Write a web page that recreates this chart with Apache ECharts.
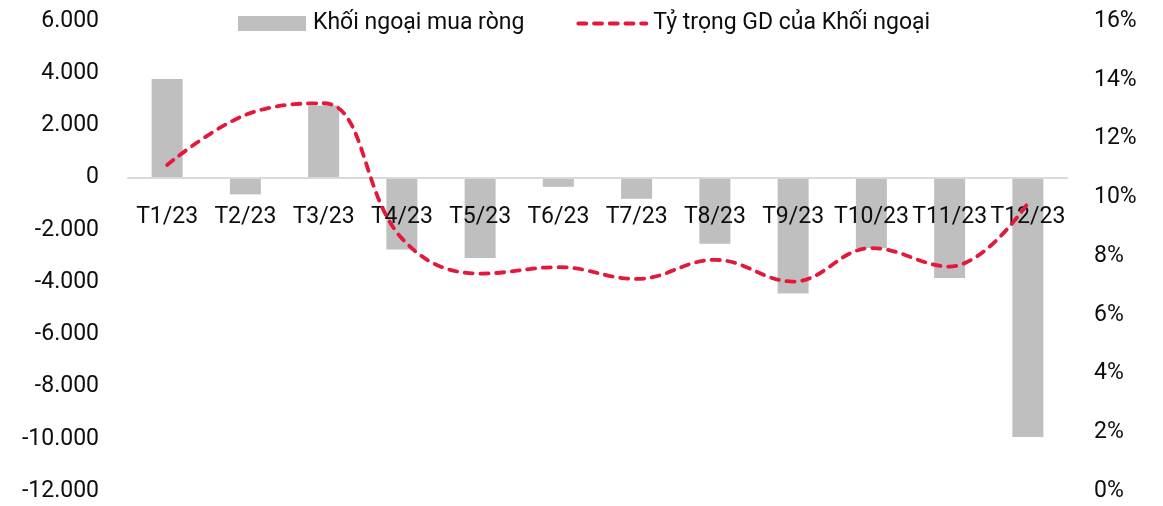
<!DOCTYPE html>
<html>
<head>
<meta charset="utf-8">
<script src="https://cdn.jsdelivr.net/npm/echarts@6/dist/echarts.min.js"></script>
<style>
  html, body { margin: 0; padding: 0; background: #fff; }
  #chart { width: 1163px; height: 506px; }
</style>
</head>
<body>
<div id="chart"></div>
<script>
// Monthly categories
const months = ['T1/23', 'T2/23', 'T3/23', 'T4/23', 'T5/23', 'T6/23',
                'T7/23', 'T8/23', 'T9/23', 'T10/23', 'T11/23', 'T12/23'];

// Net foreign buying (tỷ đồng)
const netBuy = [3780, -640, 2760, -2750, -3080, -350, -810, -2530, -4440, -2690, -3840, -9930];

// Foreign share of trading value (%)
const foreignShare = [11.1, 12.8, 13.2, 8.6, 7.4, 7.62, 7.22, 7.87, 7.13, 8.27, 7.64, 9.8];

const seriesNames = ['Khối ngoại mua ròng', 'Tỷ trọng GD của Khối ngoại'];

const FONT = 'Roboto, "Liberation Sans", sans-serif';
const FONT_SIZE = 23;
const TEXT = '#0d0d0d';
const RED = '#e3183b';
const DASHED_RED = { color: RED, width: 3.8, type: [8, 7.7], cap: 'round' };

// Layout of the plot area (px)
const GRID_TOP = 21;
const GRID_BOTTOM = 15;
const CHART_H = 506;
const Y_MIN = -12000, Y_MAX = 6000;

// Category labels sit just under the zero line rather than under the plot
const plotH = CHART_H - GRID_TOP - GRID_BOTTOM;
const zeroY = GRID_TOP + plotH * Y_MAX / (Y_MAX - Y_MIN);
const labelMargin = -(CHART_H - GRID_BOTTOM - zeroY) + 28;

// 1234 -> "1.234", -12000 -> "-12.000"
function dotThousands(v) {
  const s = Math.abs(v).toString().replace(/\B(?=(\d{3})+(?!\d))/g, '.');
  return (v < 0 ? '-' : '') + s;
}

const chart = echarts.init(document.getElementById('chart'));
chart.setOption({
  animation: false,
  backgroundColor: '#fff',
  textStyle: { fontFamily: FONT, color: TEXT },
  legend: {
    left: 238,
    top: 12,
    padding: 0,
    itemWidth: 68,
    itemHeight: 15,
    itemGap: 52,
    textStyle: { fontFamily: FONT, fontSize: FONT_SIZE, color: TEXT, padding: [0, 0, 0, 2] },
    data: [
      { name: seriesNames[0], icon: 'rect' },
      { name: seriesNames[1], itemStyle: { opacity: 0 }, lineStyle: DASHED_RED }
    ]
  },
  grid: {
    left: 128, right: 96, top: GRID_TOP, bottom: GRID_BOTTOM,
    containLabel: false,
    outerBoundsMode: 'none'
  },
  xAxis: {
    type: 'category',
    data: months,
    z: 4,
    axisLine: { onZero: true, lineStyle: { color: '#d9d9d9', width: 2 } },
    axisTick: { show: false },
    axisLabel: { fontFamily: FONT, fontSize: FONT_SIZE, color: TEXT, margin: labelMargin, interval: 0 }
  },
  yAxis: [
    {
      type: 'value',
      min: Y_MIN, max: Y_MAX, interval: 2000,
      axisLine: { show: false }, axisTick: { show: false }, splitLine: { show: false },
      axisLabel: { fontFamily: FONT, fontSize: FONT_SIZE, color: TEXT, margin: 29, formatter: dotThousands }
    },
    {
      type: 'value',
      min: 0, max: 16, interval: 2,
      axisLine: { show: false }, axisTick: { show: false }, splitLine: { show: false },
      axisLabel: { fontFamily: FONT, fontSize: FONT_SIZE, color: TEXT, margin: 27, formatter: '{value}%' }
    }
  ],
  series: [
    {
      name: seriesNames[0],
      type: 'bar',
      data: netBuy,
      barWidth: 31,
      itemStyle: { color: '#bfbfbf' },
      z: 2
    },
    {
      name: seriesNames[1],
      type: 'line',
      yAxisIndex: 1,
      data: foreignShare,
      smooth: 0.4,
      symbol: 'none',
      lineStyle: DASHED_RED,
      itemStyle: { color: RED },
      z: 5
    }
  ]
});
</script>
</body>
</html>
